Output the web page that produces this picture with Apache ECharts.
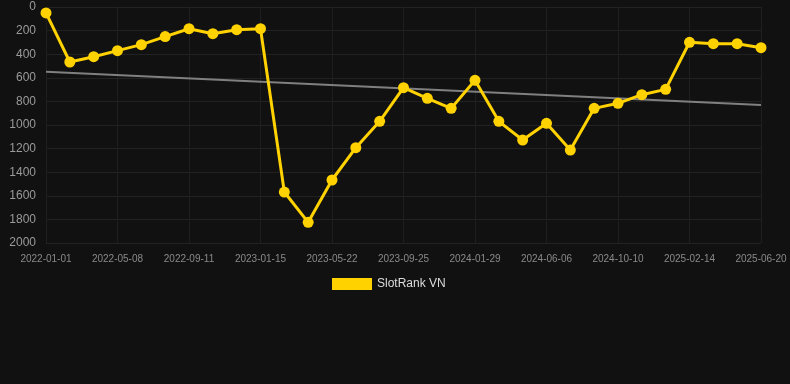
<!DOCTYPE html>
<html><head><meta charset="utf-8">
<script src="https://cdn.jsdelivr.net/npm/echarts@6/dist/echarts.min.js"></script>
<style>html,body{margin:0;padding:0;background:#111111;}#c{width:790px;height:384px;}</style>
</head><body><div id="c"></div>
<script>
const categories = ["2022-01-01","2022-02-12","2022-03-26","2022-05-08","2022-06-19","2022-07-31","2022-09-11","2022-10-23","2022-12-04","2023-01-15","2023-02-26","2023-04-09","2023-05-22","2023-07-03","2023-08-14","2023-09-25","2023-11-06","2023-12-18","2024-01-29","2024-03-11","2024-04-24","2024-06-06","2024-07-18","2024-08-29","2024-10-10","2024-11-21","2025-01-02","2025-02-14","2025-03-28","2025-05-09","2025-06-20"];
const rankValues = [50,466,421,370,319,251,184,226,192,184,1568,1825,1466,1192,969,684,774,859,621,969,1127,986,1212,859,816,743,698,299,311,311,345];
const trendStart = 548;
const trendEnd = 830;
const yTicks = [0,200,400,600,800,1000,1200,1400,1600,1800,2000];

const trendData = categories.map((c,i)=> i===0 ? trendStart : (i===categories.length-1 ? trendEnd : null));

const chart = echarts.init(document.getElementById('c'), null, {renderer:'canvas'});
chart.setOption({
  backgroundColor:'#111111',
  animation:false,
  grid:{left:46,right:29,top:7,bottom:141,containLabel:false},
  legend:{
    top:273,left:327,
    data:[{name:'SlotRank VN',icon:'rect'}],
    itemWidth:40,itemHeight:12,itemGap:10,
    textStyle:{color:'#dddddd',fontSize:12,fontFamily:'Arial, Liberation Sans, sans-serif'}
  },
  xAxis:{
    type:'category',data:categories,boundaryGap:false,
    axisLine:{show:false},axisTick:{show:false},
    axisLabel:{interval:2,color:'#8a8a8a',fontSize:10,margin:11,fontFamily:'Arial, Liberation Sans, sans-serif'},
    splitLine:{show:true,interval:2,lineStyle:{color:'#1f1f1f',width:1}}
  },
  yAxis:{
    type:'value',inverse:true,min:yTicks[0],max:yTicks[yTicks.length-1],interval:200,
    axisLine:{show:false},axisTick:{show:false},
    axisLabel:{color:'#9a9a9a',fontSize:12,margin:10,fontFamily:'Arial, Liberation Sans, sans-serif',formatter:(v)=>String(v)},
    splitLine:{lineStyle:{color:'#222222',width:1}}
  },
  series:[
    {
      name:'SlotRank VN',type:'line',data:rankValues,
      symbol:'circle',symbolSize:11,
      lineStyle:{color:'#ffd200',width:3},
      itemStyle:{color:'#ffd200'},
      z:3
    },
    {
      name:'trend',type:'line',data:trendData,connectNulls:true,
      symbol:'none',lineStyle:{color:'#808080',width:2},
      z:2,silent:true
    }
  ]
});
</script></body></html>
